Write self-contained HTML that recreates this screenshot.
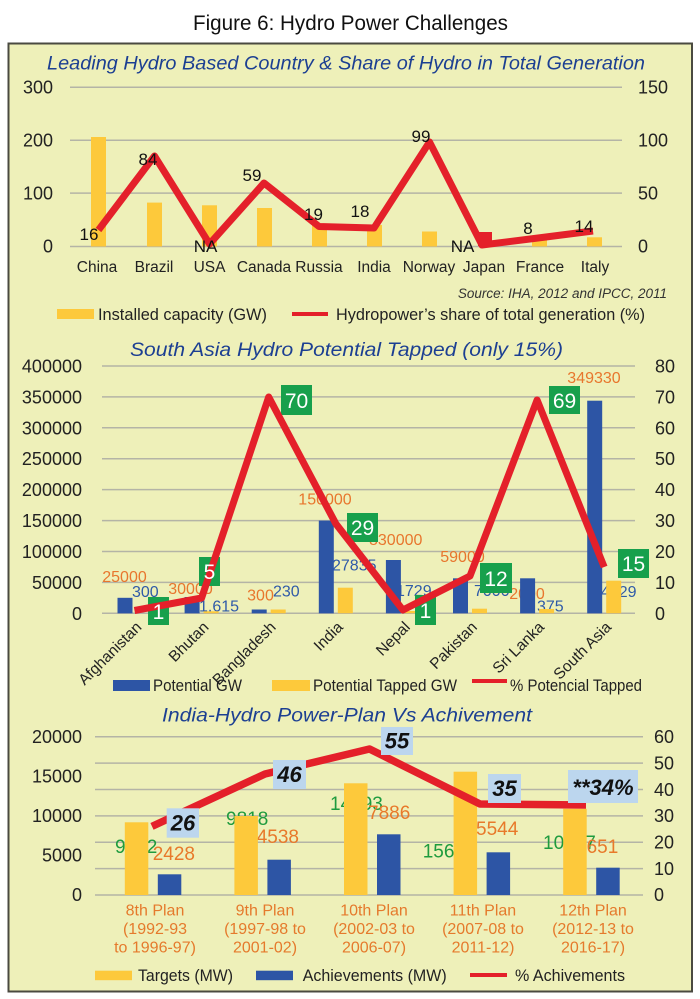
<!DOCTYPE html>
<html><head><meta charset="utf-8"><style>
html,body{margin:0;padding:0;background:#fff;}
svg{display:block;}
text{font-family:"Liberation Sans",Arial,sans-serif;}
.ax{font-size:18px;fill:#222;}
.t{font-style:italic;fill:#1c3f92;font-size:19px;}
.cat{font-size:15.5px;fill:#222;}
.lg{font-size:16.5px;fill:#222;}
.dl{font-size:17px;fill:#111;}
.or{font-size:16px;fill:#e8762d;}
.bl{font-size:16px;fill:#2f5aa8;}
.gb{font-size:21px;fill:#fff;}
.g3{font-size:19px;fill:#1e9b3e;}
.o3{font-size:19px;fill:#e8792a;}
.bx{font-family:"Liberation Serif",serif;font-style:italic;font-weight:bold;font-size:22px;fill:#111;}
.c3{font-size:16px;fill:#e57a2c;}
</style></head><body>
<svg width="700" height="999" viewBox="0 0 700 999" xmlns="http://www.w3.org/2000/svg">
<rect x="0" y="0" width="700" height="999" fill="#fff"/>
<text x="350.5" y="30" text-anchor="middle" font-size="21" fill="#111" textLength="315" lengthAdjust="spacingAndGlyphs">Figure 6: Hydro Power Challenges</text>
<rect x="8.5" y="43.5" width="683.5" height="948" fill="#eef0b9" stroke="#4a4a40" stroke-width="2"/>

<!-- ===== Chart 1 ===== -->
<text class="t" x="47" y="69.5" textLength="598" lengthAdjust="spacingAndGlyphs">Leading Hydro Based Country &amp; Share of Hydro in Total Generation</text>
<g stroke="#b4b4a6" stroke-width="1.5">
<line x1="70" y1="87.3" x2="622" y2="87.3"/>
<line x1="70" y1="140.2" x2="622" y2="140.2"/>
<line x1="70" y1="193.1" x2="622" y2="193.1"/>
<line x1="70" y1="246.5" x2="622" y2="246.5"/>
</g>
<g class="ax" text-anchor="end">
<text x="53" y="93.5">300</text><text x="53" y="146.5">200</text><text x="53" y="199.5">100</text><text x="53" y="252.5">0</text>
</g>
<g class="ax">
<text x="638" y="93.5">150</text><text x="638" y="146.5">100</text><text x="638" y="199.5">50</text><text x="638" y="252.5">0</text>
</g>
<g fill="#fdc93b">
<rect x="91" y="137" width="15" height="109.5"/>
<rect x="147" y="202.6" width="15" height="43.9"/>
<rect x="202" y="205.3" width="15" height="41.2"/>
<rect x="257" y="208" width="15" height="38.5"/>
<rect x="312" y="225" width="15" height="21.5"/>
<rect x="367" y="225" width="15" height="21.5"/>
<rect x="422" y="231.5" width="15" height="15"/>
<rect x="532" y="238" width="15" height="8.5"/>
<rect x="587" y="237.3" width="15" height="9.2"/>
</g>
<rect x="478" y="232" width="14" height="14" fill="#e4202a"/>
<polyline points="98.5,230 154.5,156 209.5,244 264,183 319,226.5 374,228 429.5,142 482,245 538,238 593,231" fill="none" stroke="#e4202a" stroke-width="7" stroke-linejoin="round"/>
<g class="dl" text-anchor="middle">
<text x="89" y="240">16</text><text x="148" y="165">84</text><text x="205.5" y="252">NA</text>
<text x="252" y="181">59</text><text x="313.5" y="220">19</text><text x="360" y="217">18</text>
<text x="421" y="142">99</text><text x="462.5" y="252">NA</text><text x="528" y="234">8</text><text x="584" y="232">14</text>
</g>
<g class="cat" text-anchor="middle">
<text x="97" y="272">China</text><text x="154" y="272">Brazil</text><text x="209.5" y="272">USA</text>
<text x="264" y="272">Canada</text><text x="319" y="272">Russia</text><text x="374" y="272">India</text>
<text x="429" y="272">Norway</text><text x="484" y="272">Japan</text><text x="540" y="272">France</text><text x="595" y="272">Italy</text>
</g>
<text x="667" y="298" text-anchor="end" font-size="13.5" font-style="italic" fill="#333">Source: IHA, 2012 and IPCC, 2011</text>
<rect x="57" y="309" width="37" height="10" fill="#fdc93b"/>
<text class="lg" x="98" y="320" textLength="169" lengthAdjust="spacingAndGlyphs">Installed capacity (GW)</text>
<line x1="292" y1="314" x2="328" y2="314" stroke="#e4202a" stroke-width="4"/>
<text class="lg" x="336" y="320" textLength="309" lengthAdjust="spacingAndGlyphs">Hydropower’s share of total generation (%)</text>

<!-- ===== Chart 2 ===== -->
<text class="t" x="130" y="356" textLength="433" lengthAdjust="spacingAndGlyphs">South Asia Hydro Potential Tapped (only 15%)</text>
<g stroke="#b4b4a6" stroke-width="1.5">
<line x1="102" y1="366" x2="635" y2="366"/>
<line x1="102" y1="396.9" x2="635" y2="396.9"/>
<line x1="102" y1="427.8" x2="635" y2="427.8"/>
<line x1="102" y1="458.7" x2="635" y2="458.7"/>
<line x1="102" y1="489.6" x2="635" y2="489.6"/>
<line x1="102" y1="520.6" x2="635" y2="520.6"/>
<line x1="102" y1="551.5" x2="635" y2="551.5"/>
<line x1="102" y1="582.4" x2="635" y2="582.4"/>
<line x1="102" y1="613.3" x2="635" y2="613.3"/>
</g>
<g class="ax" text-anchor="end">
<text x="82" y="372.5">400000</text><text x="82" y="403.4">350000</text><text x="82" y="434.3">300000</text>
<text x="82" y="465.2">250000</text><text x="82" y="496.1">200000</text><text x="82" y="527.1">150000</text>
<text x="82" y="558">100000</text><text x="82" y="588.9">50000</text><text x="82" y="619.8">0</text>
</g>
<g class="ax">
<text x="655" y="372.5">80</text><text x="655" y="403.4">70</text><text x="655" y="434.3">60</text>
<text x="655" y="465.2">50</text><text x="655" y="496.1">40</text><text x="655" y="527.1">30</text>
<text x="655" y="558">20</text><text x="655" y="588.9">10</text><text x="655" y="619.8">0</text>
</g>
<g class="or" text-anchor="middle">
<text x="124.5" y="582">25000</text><text x="190.5" y="594">30000</text><text x="260.5" y="600.5">300</text>
<text x="325" y="504.5">150000</text><text x="395.7" y="545">830000</text><text x="462.5" y="562">59000</text>
<text x="527" y="599">2000</text><text x="594" y="383">349330</text>
</g>
<g class="bl">
<text x="132" y="597">300</text><text x="199" y="611.5">1.615</text><text x="273" y="596.5">230</text>
<text x="332" y="570.5">27835</text><text x="396" y="596">1729</text><text x="474" y="596">7000</text>
<text x="537" y="611.5">375</text><text x="592" y="597">54729</text>
</g>
<g fill="#2d55a5">
<rect x="117.5" y="597.8" width="15" height="15.5"/>
<rect x="184.6" y="597" width="15" height="16.3"/>
<rect x="251.7" y="609.5" width="15" height="3.8"/>
<rect x="318.8" y="520.6" width="15" height="92.7"/>
<rect x="385.9" y="560" width="15" height="53.3"/>
<rect x="453" y="578.3" width="15" height="35"/>
<rect x="520.1" y="578.3" width="15" height="35"/>
<rect x="587.2" y="400.7" width="15" height="212.6"/>
</g>
<g fill="#fdc93b">
<rect x="203.6" y="611.3" width="15" height="2"/>
<rect x="270.7" y="609.5" width="15" height="3.8"/>
<rect x="337.8" y="587.7" width="15" height="25.6"/>
<rect x="404.9" y="611" width="15" height="2.3"/>
<rect x="472" y="608.7" width="15" height="4.6"/>
<rect x="539.1" y="609" width="15" height="4.3"/>
<rect x="606.2" y="580.7" width="15" height="32.6"/>
</g>
<g fill="#17a04c">
<rect x="148" y="597" width="21" height="28"/>
<rect x="199" y="557" width="21" height="29"/>
<rect x="281" y="385" width="31" height="30"/>
<rect x="347" y="513" width="31" height="29"/>
<rect x="415" y="595" width="21" height="30"/>
<rect x="480" y="563" width="32" height="30"/>
<rect x="549" y="386" width="31" height="28"/>
<rect x="618" y="549" width="31" height="29"/>
</g>
<polyline points="134.5,610.5 201.6,598 268.7,397 335.8,523.7 402.9,610 470,576 537.1,400 604.2,567" fill="none" stroke="#e4202a" stroke-width="7" stroke-linejoin="round"/>
<g class="gb" text-anchor="middle">
<text x="158.5" y="619">1</text><text x="209.5" y="579">5</text><text x="296.5" y="408">70</text>
<text x="362.5" y="535">29</text><text x="425.5" y="618">1</text><text x="496" y="586">12</text>
<text x="564.5" y="408">69</text><text x="633.5" y="571">15</text>
</g>
<g class="cat" font-size="15" text-anchor="end">
<text transform="translate(142.5,628) rotate(-45)">Afghanistan</text>
<text transform="translate(209.6,628) rotate(-45)">Bhutan</text>
<text transform="translate(276.7,628) rotate(-45)">Bangladesh</text>
<text transform="translate(343.8,628) rotate(-45)">India</text>
<text transform="translate(410.9,628) rotate(-45)">Nepal</text>
<text transform="translate(478,628) rotate(-45)">Pakistan</text>
<text transform="translate(545.1,628) rotate(-45)">Sri Lanka</text>
<text transform="translate(612.2,628) rotate(-45)">South Asia</text>
</g>
<rect x="113" y="680" width="37" height="11" fill="#2d55a5"/>
<text class="lg" x="153" y="691" textLength="89" lengthAdjust="spacingAndGlyphs">Potential GW</text>
<rect x="272" y="680" width="38" height="11" fill="#fdc93b"/>
<text class="lg" x="313" y="691" textLength="144" lengthAdjust="spacingAndGlyphs">Potential Tapped GW</text>
<line x1="472" y1="681" x2="507" y2="681" stroke="#e4202a" stroke-width="4"/>
<text class="lg" x="510" y="691" textLength="132" lengthAdjust="spacingAndGlyphs">% Potencial Tapped</text>

<!-- ===== Chart 3 ===== -->
<text class="t" x="162" y="721.5" textLength="370" lengthAdjust="spacingAndGlyphs">India-Hydro Power-Plan Vs Achivement</text>
<g stroke="#b4b4a6" stroke-width="1.5">
<line x1="95" y1="736.7" x2="643" y2="736.7"/>
<line x1="95" y1="763.1" x2="643" y2="763.1"/>
<line x1="95" y1="789.5" x2="643" y2="789.5"/>
<line x1="95" y1="815.9" x2="643" y2="815.9"/>
<line x1="95" y1="842.2" x2="643" y2="842.2"/>
<line x1="95" y1="868.6" x2="643" y2="868.6"/>
<line x1="95" y1="895" x2="643" y2="895"/>
</g>
<g class="ax" text-anchor="end">
<text x="82" y="743">20000</text><text x="82" y="782.5">15000</text><text x="82" y="822">10000</text>
<text x="82" y="861.5">5000</text><text x="82" y="901">0</text>
</g>
<g class="ax">
<text x="654" y="743">60</text><text x="654" y="769.4">50</text><text x="654" y="795.8">40</text>
<text x="654" y="822.2">30</text><text x="654" y="848.5">20</text><text x="654" y="874.9">10</text><text x="654" y="901">0</text>
</g>
<g class="g3">
<text x="115" y="853">9282</text><text x="226" y="825">9818</text><text x="330" y="810">14393</text>
<text x="422.7" y="857.5">15627</text><text x="543" y="849">10897</text>
</g>
<g class="o3">
<text x="152.7" y="860">2428</text><text x="256.7" y="843">4538</text><text x="368" y="819">7886</text>
<text x="476" y="835">5544</text><text x="576" y="853">3651</text>
</g>
<g fill="#fdc93b">
<rect x="124.8" y="822.3" width="23.5" height="72.7"/>
<rect x="234.4" y="816" width="23.5" height="79"/>
<rect x="344" y="783.3" width="23.5" height="111.7"/>
<rect x="453.6" y="771.7" width="23.5" height="123.3"/>
<rect x="563.2" y="808.8" width="23.5" height="86.2"/>
</g>
<g fill="#2d55a5">
<rect x="157.8" y="874.3" width="23.5" height="20.7"/>
<rect x="267.4" y="859.7" width="23.5" height="35.3"/>
<rect x="377" y="834.3" width="23.5" height="60.7"/>
<rect x="486.6" y="852.3" width="23.5" height="42.7"/>
<rect x="596.2" y="867.7" width="23.5" height="27.3"/>
</g>
<polyline points="152,826.4 265,774 369.5,749 480,804 586,805" fill="none" stroke="#e4202a" stroke-width="7.5" stroke-linejoin="round"/>
<g fill="#bcd6ee">
<rect x="166.7" y="808.3" width="32.3" height="29.4"/>
<rect x="273" y="760" width="33" height="29"/>
<rect x="381" y="727" width="32" height="28"/>
<rect x="488" y="774" width="33" height="29"/>
<rect x="568" y="770" width="70" height="33"/>
</g>
<g class="bx" text-anchor="middle">
<text x="183" y="830.5">26</text><text x="289.5" y="782">46</text><text x="397" y="748.5">55</text>
<text x="504.5" y="796">35</text><text x="603" y="795">**34%</text>
</g>
<g class="c3" text-anchor="middle">
<text x="155" y="915.5">8th Plan</text><text x="155" y="934">(1992-93</text><text x="155" y="952.5">to 1996-97)</text>
<text x="265" y="915.5">9th Plan</text><text x="265" y="934">(1997-98 to</text><text x="265" y="952.5">2001-02)</text>
<text x="374" y="915.5">10th Plan</text><text x="374" y="934">(2002-03 to</text><text x="374" y="952.5">2006-07)</text>
<text x="483" y="915.5">11th Plan</text><text x="483" y="934">(2007-08 to</text><text x="483" y="952.5">2011-12)</text>
<text x="593" y="915.5">12th Plan</text><text x="593" y="934">(2012-13 to</text><text x="593" y="952.5">2016-17)</text>
</g>
<rect x="95" y="970.7" width="37" height="9.5" fill="#fdc93b"/>
<text class="lg" x="138" y="981" font-size="17" textLength="95" lengthAdjust="spacingAndGlyphs">Targets (MW)</text>
<rect x="256" y="970.7" width="37" height="9.5" fill="#2d55a5"/>
<text class="lg" x="302.7" y="981" font-size="17" textLength="144" lengthAdjust="spacingAndGlyphs">Achievements (MW)</text>
<line x1="470" y1="975" x2="507" y2="975" stroke="#e4202a" stroke-width="4"/>
<text class="lg" x="515" y="981" font-size="17" textLength="110" lengthAdjust="spacingAndGlyphs">% Achivements</text>
</svg>
</body></html>
